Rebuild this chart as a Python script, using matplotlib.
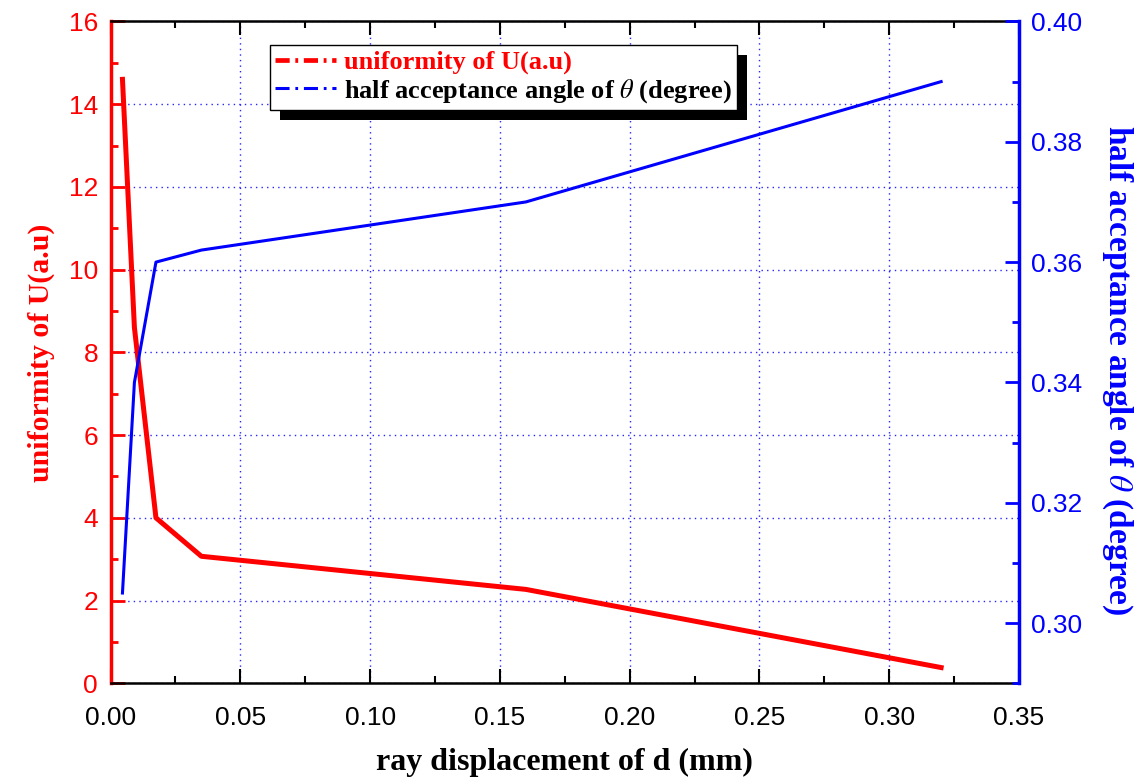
import matplotlib
matplotlib.use("Agg")
import matplotlib.pyplot as plt
from matplotlib.lines import Line2D
from matplotlib.patches import Rectangle
from matplotlib.ticker import MultipleLocator, FormatStrFormatter

# data
d = [0.0046, 0.0092, 0.0175, 0.035, 0.16, 0.32]
uniformity = [14.6, 8.6, 4.0, 3.07, 2.27, 0.38]
theta = [0.305, 0.340, 0.360, 0.362, 0.370, 0.390]

label_u = "uniformity of U(a.u)"
label_t = r"half acceptance angle of $\theta$ (degree)"
label_x = "ray displacement of d (mm)"

plt.rcParams["mathtext.fontset"] = "stix"
tickfont = "Liberation Sans"
labfont = dict(family="Liberation Serif", weight="bold")

fig = plt.figure(figsize=(11.43, 7.8), dpi=100)
ax = fig.add_axes([0.0967, 0.124, 0.7948, 0.8485])
ax2 = ax.twinx()

ax.plot(d, uniformity, color="red", lw=3.6, zorder=3)
ax2.plot(d, theta, color="blue", lw=2.2, zorder=3)

ax.set_xlim(0, 0.35)
ax.set_ylim(0, 16)
ax2.set_ylim(0.29, 0.40)

ax.xaxis.set_major_locator(MultipleLocator(0.05))
ax.xaxis.set_minor_locator(MultipleLocator(0.025))
ax.xaxis.set_major_formatter(FormatStrFormatter("%.2f"))
ax.yaxis.set_major_locator(MultipleLocator(2))
ax.yaxis.set_minor_locator(MultipleLocator(1))
ax2.yaxis.set_major_locator(MultipleLocator(0.02))
ax2.yaxis.set_minor_locator(MultipleLocator(0.01))
ax2.yaxis.set_major_formatter(FormatStrFormatter("%.2f"))

ax.grid(True, which="major", color="blue", linestyle=(0, (1, 3)), lw=1.0, alpha=0.85)

ax.tick_params(axis="x", which="both", direction="in", top=True, colors="black", width=1.5,
               labelsize=19, pad=16)
ax.tick_params(axis="x", which="major", length=10)
ax.tick_params(axis="x", which="minor", length=5)
ax.tick_params(axis="y", which="both", direction="in", colors="red", width=2, labelsize=19, pad=9)
ax.tick_params(axis="y", which="major", length=10)
ax.tick_params(axis="y", which="minor", length=5)
ax2.tick_params(axis="y", which="both", direction="in", colors="blue", width=2, labelsize=19, pad=9)
ax2.tick_params(axis="y", which="major", length=10)
ax2.tick_params(axis="y", which="minor", length=5)

for lab in ax.get_xticklabels() + ax.get_yticklabels() + ax2.get_yticklabels():
    lab.set_fontfamily(tickfont)

ax.spines["left"].set_color("red")
ax.spines["left"].set_linewidth(2.5)
ax.spines["bottom"].set_linewidth(1.8)
ax.spines["top"].set_linewidth(1.8)
ax.spines["right"].set_visible(False)
ax2.spines["right"].set_color("blue")
ax2.spines["right"].set_linewidth(2.5)
ax2.spines["left"].set_visible(False)
ax2.spines["top"].set_visible(False)
ax2.spines["bottom"].set_visible(False)

ax.set_xlabel(label_x, fontsize=23, labelpad=13, **labfont)
ax.set_ylabel(label_u, fontsize=21.5, color="red", labelpad=10, **labfont)
ax2.set_ylabel(label_t, fontsize=24, color="blue", rotation=270, labelpad=36, **labfont)
ax2.yaxis.set_label_coords(1.127, 0.473)

handles = [Line2D([], [], color="red", lw=3.4, dashes=(3, 1.2, 0.6, 1.2)),
           Line2D([], [], color="blue", lw=2.2, dashes=(4.6, 1.9, 0.9, 1.9))]
leg = ax2.legend(handles, [label_u, label_t], loc="upper left", bbox_to_anchor=(0.1756, 0.964),
                 borderaxespad=0, frameon=True, fancybox=False, framealpha=1,
                 edgecolor="black", handlelength=2.3, handletextpad=0.3, borderpad=0.2,
                 labelspacing=0.1, prop=dict(family="Liberation Serif", weight="bold", size=19))
leg.get_frame().set_linewidth(1.0)
leg.get_texts()[0].set_color("red")
leg.get_texts()[1].set_color("black")

# solid black drop shadow behind the legend box
fig.canvas.draw()
bb = leg.get_window_extent()
inv = ax2.transAxes.inverted()
(x0, y0) = inv.transform((bb.x0 + 10, bb.y0 - 10))
(x1, y1) = inv.transform((bb.x1 + 10, bb.y1 - 10))
ax2.add_patch(Rectangle((x0, y0), x1 - x0, y1 - y0, transform=ax2.transAxes,
                        facecolor="black", edgecolor="none", zorder=4.9, clip_on=False))

fig.savefig("out.png", dpi=100)
